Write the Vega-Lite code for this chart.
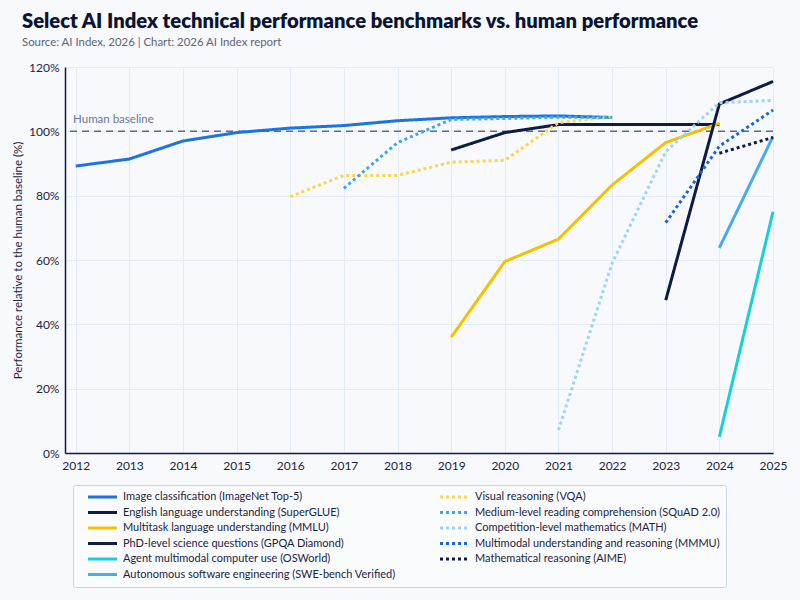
{
  "$schema": "https://vega.github.io/schema/vega-lite/v6.json",
  "width": 708,
  "height": 386,
  "autosize": {"type": "none"},
  "padding": {"left": 65, "top": 67, "right": 27, "bottom": 147},
  "background": "#f7f9fc",
  "config": {
    "font": "Lato",
    "view": {"stroke": null},
    "axis": {"gridColor": "#e3ecf6", "gridWidth": 1, "ticks": false, "domainColor": "#0d1b45", "domainWidth": 1.5, "labelColor": "#1c2340", "labelFontSize": 12, "labelFont": "Lato", "titleFont": "Lato", "titleFontWeight": "normal", "titleColor": "#1c2340", "titleFontSize": 11.5}
  },
  "title": {
    "text": "Select AI Index technical performance benchmarks vs. human performance",
    "subtitle": "Source: AI Index, 2026 | Chart: 2026 AI Index report",
    "anchor": "start",
    "frame": "group",
    "dx": -43,
    "offset": 13,
    "font": "Lato",
    "fontSize": 20.2,
    "fontWeight": 800,
    "color": "#0b1433",
    "subtitleFont": "Lato",
    "subtitleFontSize": 11.4,
    "subtitleColor": "#5c6478",
    "subtitlePadding": 4
  },
  "datasets": {
    "bench": [
      {"benchmark": "Image classification (ImageNet Top-5)", "year": 2012, "value": 89.2},
      {"benchmark": "Image classification (ImageNet Top-5)", "year": 2013, "value": 91.4},
      {"benchmark": "Image classification (ImageNet Top-5)", "year": 2014, "value": 97.0},
      {"benchmark": "Image classification (ImageNet Top-5)", "year": 2015, "value": 99.6},
      {"benchmark": "Image classification (ImageNet Top-5)", "year": 2016, "value": 101.0},
      {"benchmark": "Image classification (ImageNet Top-5)", "year": 2017, "value": 101.8},
      {"benchmark": "Image classification (ImageNet Top-5)", "year": 2018, "value": 103.3},
      {"benchmark": "Image classification (ImageNet Top-5)", "year": 2019, "value": 104.2},
      {"benchmark": "Image classification (ImageNet Top-5)", "year": 2020, "value": 104.6},
      {"benchmark": "Image classification (ImageNet Top-5)", "year": 2021, "value": 104.8},
      {"benchmark": "Image classification (ImageNet Top-5)", "year": 2022, "value": 104.3},
      {"benchmark": "English language understanding (SuperGLUE)", "year": 2019, "value": 94.2},
      {"benchmark": "English language understanding (SuperGLUE)", "year": 2020, "value": 99.6},
      {"benchmark": "English language understanding (SuperGLUE)", "year": 2021, "value": 102.1},
      {"benchmark": "English language understanding (SuperGLUE)", "year": 2022, "value": 102.1},
      {"benchmark": "English language understanding (SuperGLUE)", "year": 2023, "value": 102.1},
      {"benchmark": "English language understanding (SuperGLUE)", "year": 2024, "value": 102.1},
      {"benchmark": "Multitask language understanding (MMLU)", "year": 2019, "value": 36.0},
      {"benchmark": "Multitask language understanding (MMLU)", "year": 2020, "value": 59.5},
      {"benchmark": "Multitask language understanding (MMLU)", "year": 2021, "value": 66.5},
      {"benchmark": "Multitask language understanding (MMLU)", "year": 2022, "value": 83.3},
      {"benchmark": "Multitask language understanding (MMLU)", "year": 2023, "value": 96.5},
      {"benchmark": "Multitask language understanding (MMLU)", "year": 2024, "value": 102.5},
      {"benchmark": "PhD-level science questions (GPQA Diamond)", "year": 2023, "value": 47.5},
      {"benchmark": "PhD-level science questions (GPQA Diamond)", "year": 2024, "value": 108.5},
      {"benchmark": "PhD-level science questions (GPQA Diamond)", "year": 2025, "value": 115.5},
      {"benchmark": "Agent multimodal computer use (OSWorld)", "year": 2024, "value": 5.0},
      {"benchmark": "Agent multimodal computer use (OSWorld)", "year": 2025, "value": 75.0},
      {"benchmark": "Autonomous software engineering (SWE-bench Verified)", "year": 2024, "value": 63.8},
      {"benchmark": "Autonomous software engineering (SWE-bench Verified)", "year": 2025, "value": 98.4},
      {"benchmark": "Visual reasoning (VQA)", "year": 2016, "value": 79.7},
      {"benchmark": "Visual reasoning (VQA)", "year": 2017, "value": 86.3},
      {"benchmark": "Visual reasoning (VQA)", "year": 2018, "value": 86.3},
      {"benchmark": "Visual reasoning (VQA)", "year": 2019, "value": 90.4},
      {"benchmark": "Visual reasoning (VQA)", "year": 2020, "value": 91.0},
      {"benchmark": "Visual reasoning (VQA)", "year": 2021, "value": 102.7},
      {"benchmark": "Visual reasoning (VQA)", "year": 2022, "value": 104.5},
      {"benchmark": "Medium-level reading comprehension (SQuAD 2.0)", "year": 2017, "value": 82.3},
      {"benchmark": "Medium-level reading comprehension (SQuAD 2.0)", "year": 2018, "value": 96.5},
      {"benchmark": "Medium-level reading comprehension (SQuAD 2.0)", "year": 2019, "value": 103.7},
      {"benchmark": "Medium-level reading comprehension (SQuAD 2.0)", "year": 2020, "value": 104.0},
      {"benchmark": "Medium-level reading comprehension (SQuAD 2.0)", "year": 2021, "value": 104.4},
      {"benchmark": "Medium-level reading comprehension (SQuAD 2.0)", "year": 2022, "value": 104.3},
      {"benchmark": "Competition-level mathematics (MATH)", "year": 2021, "value": 7.1},
      {"benchmark": "Competition-level mathematics (MATH)", "year": 2022, "value": 59.0},
      {"benchmark": "Competition-level mathematics (MATH)", "year": 2023, "value": 93.7},
      {"benchmark": "Competition-level mathematics (MATH)", "year": 2024, "value": 108.9},
      {"benchmark": "Competition-level mathematics (MATH)", "year": 2025, "value": 109.6},
      {"benchmark": "Multimodal understanding and reasoning (MMMU)", "year": 2023, "value": 71.6},
      {"benchmark": "Multimodal understanding and reasoning (MMMU)", "year": 2024, "value": 95.4},
      {"benchmark": "Multimodal understanding and reasoning (MMMU)", "year": 2025, "value": 106.6},
      {"benchmark": "Mathematical reasoning (AIME)", "year": 2024, "value": 93.2},
      {"benchmark": "Mathematical reasoning (AIME)", "year": 2025, "value": 98.1}
    ],
    "baseline": [{"value": 100, "label": "Human baseline", "year": 2011.95}]
  },
  "layer": [
    {
      "data": {"name": "baseline"},
      "mark": {"type": "rule", "color": "#5b6b8c", "strokeWidth": 1.5, "strokeDash": [7, 5]},
      "encoding": {
        "y": {"field": "value", "type": "quantitative", "scale": {"domain": [0, 120], "nice": false, "zero": true}}
      }
    },
    {
      "data": {"name": "baseline"},
      "mark": {"type": "text", "align": "left", "baseline": "alphabetic", "dy": -8, "fontSize": 11.5, "color": "#6b7898", "font": "Lato"},
      "encoding": {
        "x": {"field": "year", "type": "quantitative"},
        "y": {"field": "value", "type": "quantitative"},
        "text": {"field": "label"}
      }
    },
    {
      "data": {"name": "bench"},
      "mark": {"type": "line", "strokeWidth": 3, "strokeCap": "butt", "strokeJoin": "round"},
      "encoding": {
        "x": {
          "field": "year", "type": "quantitative",
          "scale": {"domain": [2011.8, 2025], "nice": false, "zero": false},
          "axis": {"values": [2012, 2013, 2014, 2015, 2016, 2017, 2018, 2019, 2020, 2021, 2022, 2023, 2024, 2025], "format": "d", "title": null, "labelPadding": 7, "labelFlush": false, "grid": true}
        },
        "y": {
          "field": "value", "type": "quantitative",
          "axis": {"values": [0, 20, 40, 60, 80, 100, 120], "labelExpr": "datum.value + '%'", "title": "Performance relative to the human baseline (%)", "labelPadding": 6, "titlePadding": 5, "grid": true}
        },
        "color": {
          "field": "benchmark", "type": "nominal",
          "scale": {
            "domain": ["Image classification (ImageNet Top-5)", "English language understanding (SuperGLUE)", "Multitask language understanding (MMLU)", "PhD-level science questions (GPQA Diamond)", "Agent multimodal computer use (OSWorld)", "Autonomous software engineering (SWE-bench Verified)", "Visual reasoning (VQA)", "Medium-level reading comprehension (SQuAD 2.0)", "Competition-level mathematics (MATH)", "Multimodal understanding and reasoning (MMMU)", "Mathematical reasoning (AIME)"],
            "range": ["#1a74e2", "#0d1b45", "#f5c100", "#0d1b45", "#18cfd8", "#4aaaf0", "#fbd54a", "#3ea6f5", "#9fd3f5", "#1565e8", "#0d1b45"]
          },
          "legend": {
            "title": null, "orient": "none", "legendX": 8, "legendY": 418, "columns": 2, "columnPadding": 35,
            "symbolType": "stroke", "symbolSize": 841, "symbolStrokeWidth": 3, "clipHeight": 13, "rowPadding": 2.5, "labelOffset": 4.5, "symbolOffset": 8,
            "labelFont": "Lato", "labelFontSize": 11, "labelColor": "#1c2340", "labelLimit": 400,
            "padding": 5.5, "strokeColor": "#c8d5e8", "fillColor": "#fafbfd", "cornerRadius": 2
          }
        },
        "strokeDash": {
          "field": "benchmark", "type": "nominal",
          "scale": {
            "domain": ["Image classification (ImageNet Top-5)", "English language understanding (SuperGLUE)", "Multitask language understanding (MMLU)", "PhD-level science questions (GPQA Diamond)", "Agent multimodal computer use (OSWorld)", "Autonomous software engineering (SWE-bench Verified)", "Visual reasoning (VQA)", "Medium-level reading comprehension (SQuAD 2.0)", "Competition-level mathematics (MATH)", "Multimodal understanding and reasoning (MMMU)", "Mathematical reasoning (AIME)"],
            "range": [[1, 0], [1, 0], [1, 0], [1, 0], [1, 0], [1, 0], [3, 3], [3, 3], [3, 3], [3, 3], [3, 3]]
          },
          "legend": {
            "title": null, "orient": "none", "legendX": 8, "legendY": 418, "columns": 2, "columnPadding": 35,
            "symbolType": "stroke", "symbolSize": 841, "symbolStrokeWidth": 3, "clipHeight": 13, "rowPadding": 2.5, "labelOffset": 4.5, "symbolOffset": 8,
            "labelFont": "Lato", "labelFontSize": 11, "labelColor": "#1c2340", "labelLimit": 400,
            "padding": 5.5, "strokeColor": "#c8d5e8", "fillColor": "#fafbfd", "cornerRadius": 2
          }
        }
      }
    }
  ]
}
